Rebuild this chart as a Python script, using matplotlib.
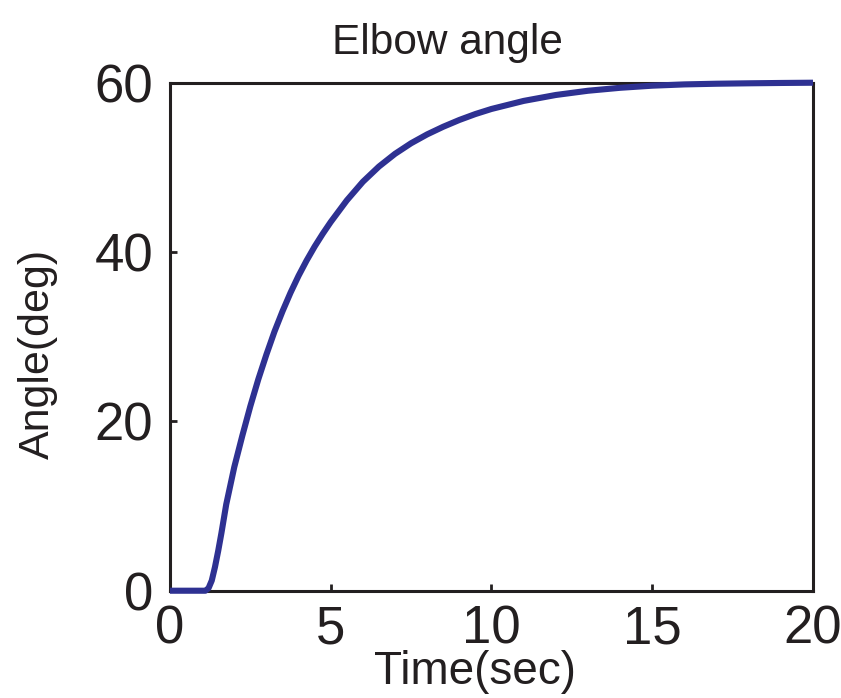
import matplotlib.pyplot as plt

plt.rcParams['font.family'] = ['Liberation Sans', 'DejaVu Sans']

# elbow joint response (deg) over time (sec)
time_sec = [0, 1.1, 1.2, 1.3, 1.4, 1.5, 1.6, 1.75, 2.0, 2.25, 2.5, 2.75,
            3.0, 3.25, 3.5, 3.75, 4.0, 4.25, 4.5, 4.75, 5.0, 5.5, 6.0, 6.5,
            7.0, 7.5, 8.0, 8.5, 9.0, 9.5, 10.0, 11.0, 12.0, 13.0, 14.0,
            15.0, 16.0, 17.0, 18.0, 19.0, 20.0]
angle_deg = [0, 0, 0.3, 1.2, 2.8, 4.7, 6.8, 10.2, 14.6, 18.3, 21.8, 25.0,
             27.9, 30.6, 33.0, 35.2, 37.2, 39.0, 40.65, 42.15, 43.55, 46.1,
             48.3, 50.1, 51.6, 52.85, 53.9, 54.8, 55.6, 56.3, 56.9, 57.85,
             58.55, 59.05, 59.4, 59.65, 59.8, 59.88, 59.93, 59.97, 60.0]
x_ticks = [0, 5, 10, 15, 20]
y_ticks = [0, 20, 40, 60]

ink = '#231F20'

fig = plt.figure(figsize=(8.41, 6.98), dpi=100)
ax = fig.add_axes([0.2021, 0.1537, 0.7646, 0.7278])

ax.plot(time_sec, angle_deg, color='#2E3192', linewidth=4.4,
        solid_capstyle='butt', solid_joinstyle='round',
        clip_on=False, zorder=3)

ax.set_xlim(0, 20)
ax.set_ylim(0, 60)
ax.set_xticks(x_ticks)
ax.set_yticks(y_ticks)
ax.tick_params(direction='in', length=5, width=2, labelsize=38,
               colors=ink, pad=12)
ax.tick_params(axis='x', pad=10)

for s in ax.spines.values():
    s.set_linewidth(2.2)
    s.set_color(ink)

ax.set_title('Elbow angle', fontsize=30.5, color=ink, pad=21, x=0.431)
ax.set_xlabel('Time(sec)', fontsize=33, color=ink)
ax.set_ylabel('Angle(deg)', fontsize=31, color=ink)
ax.xaxis.set_label_coords(0.474, -0.117)
ax.yaxis.set_label_coords(-0.174, 0.466)

fig.savefig('out.png', dpi=100)
